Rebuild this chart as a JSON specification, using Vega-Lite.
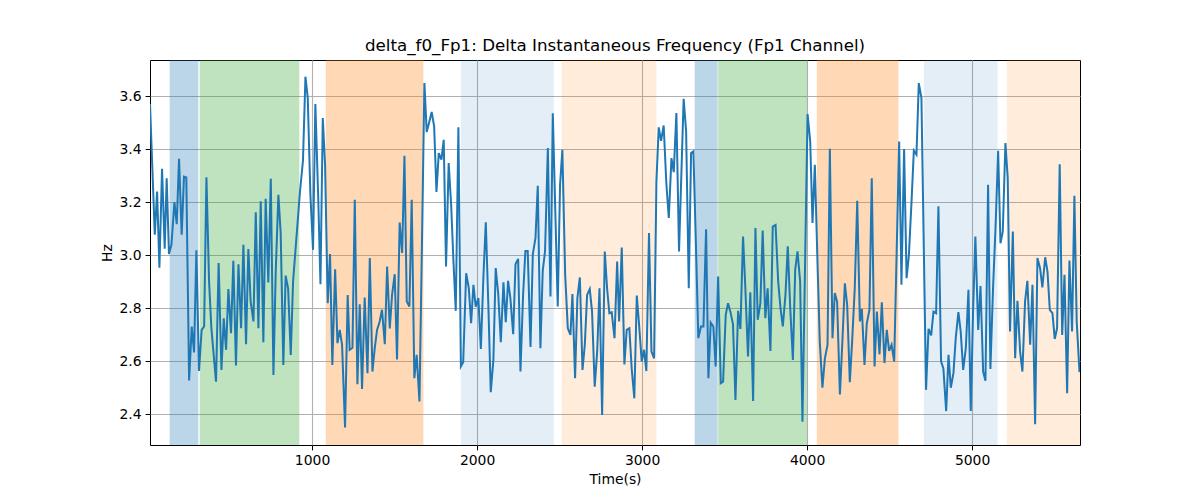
{
  "$schema": "https://vega.github.io/schema/vega-lite/v6.json",
  "width": 930,
  "height": 385,
  "autosize": {"type": "none"},
  "padding": {"left": 150, "top": 60, "right": 120, "bottom": 55},
  "title": {
    "text": "delta_f0_Fp1: Delta Instantaneous Frequency (Fp1 Channel)",
    "font": "DejaVu Sans",
    "fontSize": 16.7,
    "fontWeight": "normal",
    "color": "black",
    "offset": 5
  },
  "datasets": {
    "bands": [
      {"start": 137, "end": 311, "stage": "S1"},
      {"start": 319, "end": 923, "stage": "S2"},
      {"start": 1083, "end": 1675, "stage": "S3"},
      {"start": 1902, "end": 2465, "stage": "S4"},
      {"start": 2513, "end": 3087, "stage": "S5"},
      {"start": 3319, "end": 3458, "stage": "S1"},
      {"start": 3461, "end": 4000, "stage": "S2"},
      {"start": 4059, "end": 4554, "stage": "S3"},
      {"start": 4707, "end": 5154, "stage": "S4"},
      {"start": 5210, "end": 5654, "stage": "S5"}
    ],
    "signal": [
      {"t": 18, "hz": 3.57}, {"t": 47, "hz": 3.077}, {"t": 61, "hz": 3.24}, {"t": 75, "hz": 2.953},
      {"t": 91, "hz": 3.326}, {"t": 107, "hz": 3.024}, {"t": 119, "hz": 3.29}, {"t": 133, "hz": 3.004},
      {"t": 148, "hz": 3.04}, {"t": 166, "hz": 3.2}, {"t": 180, "hz": 3.117}, {"t": 194, "hz": 3.363},
      {"t": 210, "hz": 3.077}, {"t": 224, "hz": 3.296}, {"t": 238, "hz": 3.293}, {"t": 255, "hz": 2.527},
      {"t": 271, "hz": 2.731}, {"t": 285, "hz": 2.633}, {"t": 299, "hz": 3.018}, {"t": 315, "hz": 2.563},
      {"t": 331, "hz": 2.718}, {"t": 346, "hz": 2.731}, {"t": 360, "hz": 3.294}, {"t": 376, "hz": 2.9},
      {"t": 390, "hz": 2.724}, {"t": 404, "hz": 2.624}, {"t": 418, "hz": 2.523}, {"t": 434, "hz": 2.97},
      {"t": 451, "hz": 2.567}, {"t": 465, "hz": 2.762}, {"t": 479, "hz": 2.643}, {"t": 493, "hz": 2.872},
      {"t": 509, "hz": 2.706}, {"t": 523, "hz": 2.979}, {"t": 539, "hz": 2.584}, {"t": 554, "hz": 2.966},
      {"t": 570, "hz": 2.724}, {"t": 584, "hz": 3.039}, {"t": 600, "hz": 2.664}, {"t": 614, "hz": 3.023},
      {"t": 628, "hz": 2.825}, {"t": 645, "hz": 2.75}, {"t": 659, "hz": 3.162}, {"t": 675, "hz": 2.724},
      {"t": 689, "hz": 3.203}, {"t": 705, "hz": 2.672}, {"t": 719, "hz": 3.213}, {"t": 735, "hz": 2.897},
      {"t": 750, "hz": 3.288}, {"t": 766, "hz": 2.548}, {"t": 780, "hz": 2.938}, {"t": 796, "hz": 3.228},
      {"t": 810, "hz": 3.083}, {"t": 826, "hz": 2.586}, {"t": 840, "hz": 2.923}, {"t": 855, "hz": 2.875},
      {"t": 871, "hz": 2.624}, {"t": 885, "hz": 2.9}, {"t": 899, "hz": 3.014}, {"t": 927, "hz": 3.24},
      {"t": 945, "hz": 3.356}, {"t": 960, "hz": 3.673}, {"t": 974, "hz": 3.593}, {"t": 990, "hz": 3.228},
      {"t": 1006, "hz": 3.02}, {"t": 1020, "hz": 3.57}, {"t": 1037, "hz": 3.228}, {"t": 1051, "hz": 2.89},
      {"t": 1065, "hz": 3.517}, {"t": 1079, "hz": 3.34}, {"t": 1095, "hz": 2.819}, {"t": 1109, "hz": 3.004},
      {"t": 1123, "hz": 2.586}, {"t": 1140, "hz": 2.947}, {"t": 1154, "hz": 2.668}, {"t": 1168, "hz": 2.718},
      {"t": 1182, "hz": 2.662}, {"t": 1200, "hz": 2.35}, {"t": 1216, "hz": 2.85}, {"t": 1228, "hz": 2.643},
      {"t": 1245, "hz": 2.651}, {"t": 1259, "hz": 3.209}, {"t": 1275, "hz": 2.513}, {"t": 1289, "hz": 2.815},
      {"t": 1303, "hz": 2.495}, {"t": 1319, "hz": 2.84}, {"t": 1336, "hz": 2.555}, {"t": 1350, "hz": 2.989},
      {"t": 1366, "hz": 2.561}, {"t": 1380, "hz": 2.649}, {"t": 1394, "hz": 2.718}, {"t": 1410, "hz": 2.75},
      {"t": 1424, "hz": 2.794}, {"t": 1441, "hz": 2.664}, {"t": 1455, "hz": 2.957}, {"t": 1471, "hz": 2.724},
      {"t": 1485, "hz": 2.85}, {"t": 1501, "hz": 2.928}, {"t": 1515, "hz": 2.607}, {"t": 1531, "hz": 3.123},
      {"t": 1546, "hz": 3.008}, {"t": 1560, "hz": 3.375}, {"t": 1574, "hz": 2.825}, {"t": 1590, "hz": 2.806},
      {"t": 1604, "hz": 3.209}, {"t": 1620, "hz": 2.536}, {"t": 1634, "hz": 2.624}, {"t": 1651, "hz": 2.448},
      {"t": 1665, "hz": 3.0}, {"t": 1681, "hz": 3.649}, {"t": 1695, "hz": 3.464}, {"t": 1711, "hz": 3.504},
      {"t": 1725, "hz": 3.54}, {"t": 1740, "hz": 3.486}, {"t": 1754, "hz": 3.238}, {"t": 1768, "hz": 3.385},
      {"t": 1784, "hz": 3.36}, {"t": 1798, "hz": 3.435}, {"t": 1812, "hz": 2.957}, {"t": 1828, "hz": 3.347},
      {"t": 1843, "hz": 3.19}, {"t": 1857, "hz": 2.976}, {"t": 1871, "hz": 2.79}, {"t": 1887, "hz": 3.482},
      {"t": 1902, "hz": 2.58}, {"t": 1916, "hz": 2.596}, {"t": 1934, "hz": 2.932}, {"t": 1950, "hz": 2.875},
      {"t": 1964, "hz": 2.743}, {"t": 1978, "hz": 2.888}, {"t": 1992, "hz": 2.806}, {"t": 2008, "hz": 2.838},
      {"t": 2023, "hz": 2.646}, {"t": 2039, "hz": 2.926}, {"t": 2053, "hz": 3.124}, {"t": 2069, "hz": 2.8},
      {"t": 2083, "hz": 2.483}, {"t": 2099, "hz": 2.605}, {"t": 2113, "hz": 2.951}, {"t": 2128, "hz": 2.857},
      {"t": 2144, "hz": 2.672}, {"t": 2160, "hz": 2.898}, {"t": 2174, "hz": 2.747}, {"t": 2188, "hz": 2.903},
      {"t": 2202, "hz": 2.838}, {"t": 2219, "hz": 2.702}, {"t": 2233, "hz": 2.966}, {"t": 2249, "hz": 2.986},
      {"t": 2263, "hz": 2.561}, {"t": 2279, "hz": 2.85}, {"t": 2293, "hz": 3.016}, {"t": 2307, "hz": 3.016},
      {"t": 2324, "hz": 2.654}, {"t": 2338, "hz": 3.004}, {"t": 2354, "hz": 3.064}, {"t": 2368, "hz": 3.262},
      {"t": 2384, "hz": 2.649}, {"t": 2398, "hz": 2.941}, {"t": 2412, "hz": 3.014}, {"t": 2429, "hz": 3.404},
      {"t": 2445, "hz": 2.844}, {"t": 2459, "hz": 3.535}, {"t": 2489, "hz": 2.806}, {"t": 2503, "hz": 3.265},
      {"t": 2517, "hz": 3.397}, {"t": 2534, "hz": 2.926}, {"t": 2550, "hz": 2.724}, {"t": 2566, "hz": 2.699},
      {"t": 2578, "hz": 2.853}, {"t": 2594, "hz": 2.536}, {"t": 2608, "hz": 2.838}, {"t": 2623, "hz": 2.916},
      {"t": 2639, "hz": 2.567}, {"t": 2653, "hz": 2.662}, {"t": 2667, "hz": 2.85}, {"t": 2683, "hz": 2.872},
      {"t": 2697, "hz": 2.787}, {"t": 2713, "hz": 2.504}, {"t": 2728, "hz": 2.636}, {"t": 2742, "hz": 2.875},
      {"t": 2758, "hz": 2.397}, {"t": 2774, "hz": 3.014}, {"t": 2788, "hz": 2.875}, {"t": 2802, "hz": 2.781},
      {"t": 2816, "hz": 2.785}, {"t": 2833, "hz": 2.687}, {"t": 2849, "hz": 2.976}, {"t": 2861, "hz": 2.75},
      {"t": 2877, "hz": 3.029}, {"t": 2893, "hz": 2.588}, {"t": 2907, "hz": 2.718}, {"t": 2923, "hz": 2.724},
      {"t": 2937, "hz": 2.573}, {"t": 2953, "hz": 2.46}, {"t": 2968, "hz": 2.848}, {"t": 2982, "hz": 2.737},
      {"t": 2998, "hz": 2.599}, {"t": 3012, "hz": 2.643}, {"t": 3026, "hz": 2.563}, {"t": 3042, "hz": 3.083},
      {"t": 3057, "hz": 2.636}, {"t": 3073, "hz": 2.611}, {"t": 3087, "hz": 3.278}, {"t": 3101, "hz": 3.482},
      {"t": 3115, "hz": 3.431}, {"t": 3131, "hz": 3.489}, {"t": 3147, "hz": 3.272}, {"t": 3162, "hz": 3.14},
      {"t": 3178, "hz": 3.366}, {"t": 3192, "hz": 3.313}, {"t": 3208, "hz": 3.536}, {"t": 3224, "hz": 3.014},
      {"t": 3252, "hz": 3.59}, {"t": 3267, "hz": 3.467}, {"t": 3283, "hz": 2.875}, {"t": 3297, "hz": 3.385},
      {"t": 3311, "hz": 3.391}, {"t": 3327, "hz": 3.026}, {"t": 3341, "hz": 2.687}, {"t": 3357, "hz": 2.731},
      {"t": 3372, "hz": 2.731}, {"t": 3388, "hz": 3.098}, {"t": 3402, "hz": 2.536}, {"t": 3416, "hz": 2.746},
      {"t": 3432, "hz": 2.731}, {"t": 3446, "hz": 2.58}, {"t": 3461, "hz": 2.919}, {"t": 3477, "hz": 2.517},
      {"t": 3491, "hz": 2.523}, {"t": 3507, "hz": 2.775}, {"t": 3521, "hz": 2.819}, {"t": 3535, "hz": 2.787},
      {"t": 3551, "hz": 2.74}, {"t": 3566, "hz": 2.454}, {"t": 3582, "hz": 2.79}, {"t": 3596, "hz": 2.722},
      {"t": 3612, "hz": 3.07}, {"t": 3626, "hz": 2.875}, {"t": 3642, "hz": 2.618}, {"t": 3656, "hz": 2.86},
      {"t": 3673, "hz": 2.45}, {"t": 3687, "hz": 3.102}, {"t": 3701, "hz": 2.756}, {"t": 3717, "hz": 2.819},
      {"t": 3731, "hz": 3.093}, {"t": 3747, "hz": 2.762}, {"t": 3761, "hz": 2.875}, {"t": 3778, "hz": 2.639},
      {"t": 3792, "hz": 3.108}, {"t": 3809, "hz": 3.114}, {"t": 3825, "hz": 2.9}, {"t": 3839, "hz": 2.8},
      {"t": 3853, "hz": 2.731}, {"t": 3869, "hz": 2.85}, {"t": 3883, "hz": 3.033}, {"t": 3898, "hz": 2.8},
      {"t": 3914, "hz": 2.605}, {"t": 3928, "hz": 2.945}, {"t": 3942, "hz": 3.014}, {"t": 3958, "hz": 2.9},
      {"t": 3972, "hz": 2.372}, {"t": 4003, "hz": 3.532}, {"t": 4019, "hz": 3.429}, {"t": 4033, "hz": 3.121},
      {"t": 4047, "hz": 3.341}, {"t": 4063, "hz": 2.976}, {"t": 4077, "hz": 2.674}, {"t": 4093, "hz": 2.5},
      {"t": 4108, "hz": 2.611}, {"t": 4124, "hz": 2.662}, {"t": 4138, "hz": 3.401}, {"t": 4154, "hz": 2.687},
      {"t": 4168, "hz": 2.857}, {"t": 4182, "hz": 2.825}, {"t": 4199, "hz": 2.475}, {"t": 4213, "hz": 2.662},
      {"t": 4229, "hz": 2.894}, {"t": 4243, "hz": 2.812}, {"t": 4259, "hz": 2.521}, {"t": 4273, "hz": 2.674},
      {"t": 4289, "hz": 2.875}, {"t": 4304, "hz": 3.205}, {"t": 4320, "hz": 2.75}, {"t": 4332, "hz": 2.797},
      {"t": 4348, "hz": 2.586}, {"t": 4362, "hz": 2.743}, {"t": 4378, "hz": 2.794}, {"t": 4392, "hz": 3.29},
      {"t": 4409, "hz": 2.58}, {"t": 4423, "hz": 2.787}, {"t": 4439, "hz": 2.626}, {"t": 4453, "hz": 2.822},
      {"t": 4469, "hz": 2.593}, {"t": 4483, "hz": 2.718}, {"t": 4497, "hz": 2.639}, {"t": 4512, "hz": 2.662},
      {"t": 4528, "hz": 2.599}, {"t": 4558, "hz": 3.429}, {"t": 4572, "hz": 2.888}, {"t": 4588, "hz": 3.4},
      {"t": 4603, "hz": 2.913}, {"t": 4617, "hz": 3.0}, {"t": 4633, "hz": 3.202}, {"t": 4647, "hz": 3.394},
      {"t": 4663, "hz": 3.379}, {"t": 4677, "hz": 3.649}, {"t": 4693, "hz": 3.593}, {"t": 4721, "hz": 2.492},
      {"t": 4736, "hz": 2.722}, {"t": 4752, "hz": 2.697}, {"t": 4766, "hz": 2.787}, {"t": 4782, "hz": 2.781},
      {"t": 4796, "hz": 3.184}, {"t": 4812, "hz": 2.6}, {"t": 4826, "hz": 2.573}, {"t": 4843, "hz": 2.412},
      {"t": 4857, "hz": 2.624}, {"t": 4871, "hz": 2.5}, {"t": 4887, "hz": 2.555}, {"t": 4901, "hz": 2.687},
      {"t": 4917, "hz": 2.785}, {"t": 4931, "hz": 2.712}, {"t": 4946, "hz": 2.567}, {"t": 4962, "hz": 2.649},
      {"t": 4978, "hz": 2.869}, {"t": 4992, "hz": 2.412}, {"t": 5006, "hz": 2.787}, {"t": 5020, "hz": 3.07},
      {"t": 5037, "hz": 2.718}, {"t": 5051, "hz": 2.884}, {"t": 5067, "hz": 2.561}, {"t": 5081, "hz": 2.526},
      {"t": 5097, "hz": 3.265}, {"t": 5111, "hz": 2.571}, {"t": 5127, "hz": 2.875}, {"t": 5142, "hz": 3.102},
      {"t": 5158, "hz": 3.394}, {"t": 5172, "hz": 3.045}, {"t": 5186, "hz": 3.089}, {"t": 5202, "hz": 3.423},
      {"t": 5216, "hz": 3.29}, {"t": 5230, "hz": 2.712}, {"t": 5247, "hz": 3.089}, {"t": 5261, "hz": 2.611},
      {"t": 5275, "hz": 2.828}, {"t": 5291, "hz": 2.636}, {"t": 5305, "hz": 2.561}, {"t": 5321, "hz": 2.825},
      {"t": 5335, "hz": 2.903}, {"t": 5352, "hz": 2.662}, {"t": 5366, "hz": 2.888}, {"t": 5382, "hz": 2.362},
      {"t": 5396, "hz": 2.989}, {"t": 5412, "hz": 2.951}, {"t": 5426, "hz": 2.878}, {"t": 5443, "hz": 2.992},
      {"t": 5457, "hz": 2.938}, {"t": 5471, "hz": 2.794}, {"t": 5487, "hz": 2.781}, {"t": 5501, "hz": 2.684},
      {"t": 5515, "hz": 2.724}, {"t": 5531, "hz": 3.343}, {"t": 5546, "hz": 2.699}, {"t": 5560, "hz": 2.926},
      {"t": 5576, "hz": 2.479}, {"t": 5590, "hz": 2.98}, {"t": 5606, "hz": 2.712}, {"t": 5620, "hz": 3.224},
      {"t": 5634, "hz": 2.75}, {"t": 5651, "hz": 2.559}
    ]
  },
  "encoding": {
    "x": {
      "type": "quantitative",
      "scale": {"domain": [18, 5654], "nice": false, "zero": false},
      "axis": {"values": [1000, 2000, 3000, 4000, 5000], "format": "d", "title": "Time(s)"}
    }
  },
  "layer": [
    {
      "data": {"name": "bands"},
      "mark": {"type": "rect", "clip": true},
      "encoding": {
        "x": {"field": "start", "type": "quantitative"},
        "x2": {"field": "end"},
        "color": {
          "field": "stage",
          "type": "nominal",
          "scale": {
            "domain": ["S1", "S2", "S3", "S4", "S5"],
            "range": ["rgba(31,119,180,0.3)", "rgba(44,160,44,0.3)", "rgba(255,127,14,0.3)", "rgba(31,119,180,0.12)", "rgba(255,127,14,0.15)"]
          },
          "legend": null
        }
      }
    },
    {
      "data": {"name": "signal"},
      "mark": {"type": "line", "color": "#1f77b4", "strokeWidth": 2, "clip": true},
      "encoding": {
        "x": {"field": "t", "type": "quantitative"},
        "y": {
          "field": "hz",
          "type": "quantitative",
          "scale": {"domain": [2.284, 3.736], "nice": false, "zero": false},
          "axis": {"values": [2.4, 2.6, 2.8, 3.0, 3.2, 3.4, 3.6], "format": ".1f", "title": "Hz"}
        }
      }
    }
  ],
  "config": {
    "view": {"stroke": "black", "strokeWidth": 1},
    "axis": {
      "domain": false,
      "grid": true,
      "gridColor": "#b0b0b0",
      "gridWidth": 1.1,
      "ticks": true,
      "tickColor": "black",
      "tickSize": 4.9,
      "tickWidth": 1,
      "labelFont": "DejaVu Sans",
      "labelFontSize": 13.9,
      "labelColor": "black",
      "labelPadding": 4,
      "titleFont": "DejaVu Sans",
      "titleFontSize": 13.9,
      "titleFontWeight": "normal",
      "titleColor": "black",
      "titlePadding": 5
    }
  }
}
